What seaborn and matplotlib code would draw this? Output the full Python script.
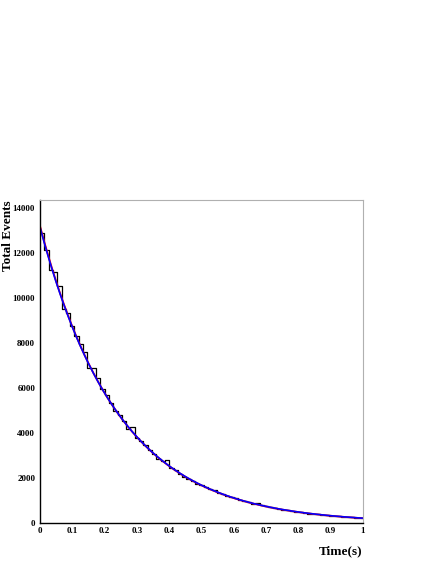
import numpy as np
import pandas as pd
import matplotlib
matplotlib.use("Agg")
import matplotlib.pyplot as plt
import seaborn as sns
from matplotlib.ticker import MultipleLocator

# ---- data ----
x_range = [0.0, 1.0]
n_bins = 75
bin_counts = [
    12900, 12150, 11250, 11150, 10550, 9500, 9350, 8750, 8300, 7950,
    7600, 6900, 6900, 6450, 5950, 5700, 5350, 5000, 4800, 4550,
    4200, 4250, 3800, 3650, 3450, 3250, 3050, 2850, 2750, 2800,
    2450, 2350, 2200, 2050, 1950, 1850, 1720, 1700, 1600, 1500,
    1450, 1350, 1300, 1200, 1150, 1100, 1020, 960, 930, 860,
    900, 790, 740, 690, 660, 640, 590, 570, 520, 500,
    480, 450, 420, 400, 385, 360, 340, 325, 300, 290,
    275, 260, 245, 235, 220,
]
# exponential fit parameters (amplitude per bin, lifetime in s)
fit_red = {"amp": 13200, "tau": 0.242}
fit_blue = {"amp": 13150, "tau": 0.243}
y_max = 14356
x_label = "Time(s)"
y_label = "Total Events"

# ---- figure ----
sns.set_theme(style="white")
plt.rcParams["font.family"] = ["Liberation Serif", "DejaVu Serif"]
plt.rcParams["font.weight"] = "bold"
plt.rcParams["text.color"] = "black"
plt.rcParams["axes.labelcolor"] = "black"
plt.rcParams["xtick.color"] = "black"
plt.rcParams["ytick.color"] = "black"

fig = plt.figure(figsize=(4.36, 5.64), dpi=100)
ax = fig.add_axes([40 / 436, 1 - 523 / 564, 323 / 436, 323 / 564])

edges = np.linspace(x_range[0], x_range[1], n_bins + 1)
centers = 0.5 * (edges[:-1] + edges[1:])
df = pd.DataFrame({"t": centers, "n": np.asarray(bin_counts, dtype=float)})

sns.histplot(data=df, x="t", weights="n", bins=n_bins, binrange=tuple(x_range),
             element="step", fill=False, color="black", linewidth=0.9, ax=ax)

xs = np.linspace(x_range[0], x_range[1], 400)
fr = pd.DataFrame({"t": xs, "f": fit_red["amp"] * np.exp(-xs / fit_red["tau"])})
fb = pd.DataFrame({"t": xs, "f": fit_blue["amp"] * np.exp(-xs / fit_blue["tau"])})
sns.lineplot(data=fr, x="t", y="f", color="red", linewidth=1.3, ax=ax)
sns.lineplot(data=fb, x="t", y="f", color="blue", linewidth=1.2, ax=ax)

ax.set_xlim(*x_range)
ax.set_ylim(0, y_max)
ax.set_xlabel("")
ax.set_ylabel("")

# ROOT-like axes
for side in ["top", "right"]:
    ax.spines[side].set_color("#b0b0b0")
    ax.spines[side].set_linewidth(0.8)
for side in ["left", "bottom"]:
    ax.spines[side].set_color("black")
    ax.spines[side].set_linewidth(1.0)

ax.xaxis.set_major_locator(MultipleLocator(0.1))
ax.xaxis.set_minor_locator(MultipleLocator(0.02))
ax.yaxis.set_major_locator(MultipleLocator(2000))
ax.yaxis.set_minor_locator(MultipleLocator(500))
ax.tick_params(axis="both", which="both", direction="in", top=False, right=False,
               colors="black")
ax.tick_params(axis="x", which="major", length=6, width=0.8, labelsize=6.5, pad=3)
ax.tick_params(axis="x", which="minor", length=3.5, width=0.8)
ax.tick_params(axis="y", which="major", length=5.5, width=0.8, labelsize=6.5, pad=3.5)
ax.tick_params(axis="y", which="minor", length=3, width=0.8)

ax.set_xticks(np.round(np.arange(0, 1.01, 0.1), 1))
ax.set_xticklabels(["0", "0.1", "0.2", "0.3", "0.4", "0.5", "0.6", "0.7", "0.8", "0.9", "1"])
for lab in ax.get_xticklabels() + ax.get_yticklabels():
    lab.set_fontweight("bold")
    lab.set_color("black")

fig.text(362 / 436, 1 - 551 / 564, x_label, ha="right", va="center",
         fontsize=9.5, fontweight="bold", color="black")
fig.text(8 / 436, 1 - 200 / 564, y_label, ha="center", va="top", rotation=90,
         fontsize=9.5, fontweight="bold", color="black")

fig.savefig("out.png", dpi=100)
